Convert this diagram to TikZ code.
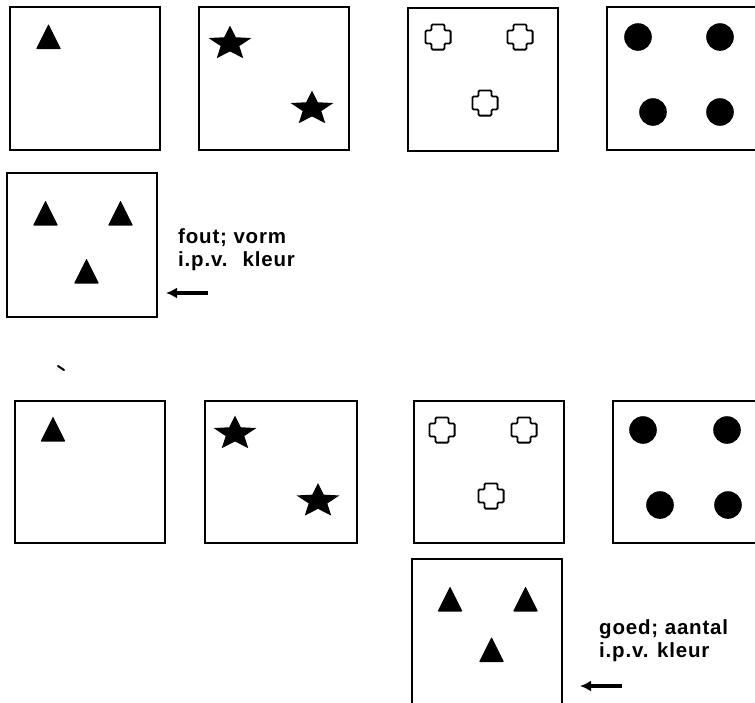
\documentclass[tikz,border=0pt]{standalone}
\usepackage{fontspec}
\newfontfamily\lblfont[LetterSpace=4]{Liberation Sans}
\usetikzlibrary{arrows.meta,positioning}
\tikzset{card/.style={draw,line width=2pt,minimum width=150pt,minimum height=143pt,inner sep=0pt},
 lbl/.style={font=\lblfont\bfseries\fontsize{20.5pt}{23pt}\selectfont,align=left,inner sep=0pt,anchor=north west},
 arr/.style={-{Latex[length=11pt,width=11pt]},line width=3.6pt},
 tri/.pic={\fill[rounded corners=.8pt] (-12.5,12.5)--(0,-12.5)--(12.5,12.5)--cycle;},
 ster/.pic={\fill[yscale=.8] (270:22.5) foreach \a in {0,...,4}{--(306+\a*72:9.8)--(342+\a*72:22.5)}--cycle;},
 kruis/.pic={\draw[line width=1.8pt,rounded corners=1.2pt] (-6.5,-12.6)--(6.5,-12.6)--(6.5,-6.5)--(12.6,-6.5)--(12.6,6.5)--(6.5,6.5)--(6.5,12.6)--(-6.5,12.6)--(-6.5,6.5)--(-12.6,6.5)--(-12.6,-6.5)--(-6.5,-6.5)--cycle;},
 stip/.pic={\fill (0,0) circle (13.8);}}
\begin{document}
\begin{tikzpicture}[x=1pt,y=-1pt]
\useasboundingbox (0,0) rectangle (755,702);\clip (0,0) rectangle (755,702);
\node[card] (v1) at (84.5,78.5) {};\node[card] (v2) at (274,78.5) {};
\node[card] (v3) at (482.5,79) {};\node[card] (v4) at (682,78.5) {};
\pic at (48.5,36.5) {tri};
\pic at (230,43.6) {ster};\pic at (312,108.6) {ster};
\pic at (438,37) {kruis};\pic at (520,37) {kruis};\pic at (485,103) {kruis};
\pic at (638,37) {stip};\pic at (720,37) {stip};\pic at (653,112) {stip};\pic at (720,112) {stip};
\node[card,minimum height=144pt] (a1) at (82,245) {};
\pic at (45.5,213) {tri};\pic at (120.5,213) {tri};\pic at (86.5,271) {tri};
\coordinate (p1) at (208,293);\coordinate (q1) at (166,293);\draw[arr] (p1)--(q1);
\node[lbl] (t1) at (178,228) {fout; vorm\\i.p.v.~ kleur};
\draw[line width=2pt,line cap=round] (58,366)--(64,370);
\node[card,minimum height=142pt] (w1) at (90,472) {};
\node[card,minimum width=152pt,minimum height=142pt] (w2) at (281,472) {};
\node[card,minimum height=142pt] (w3) at (488.5,472) {};\node[card,minimum height=142pt] (w4) at (688,472) {};
\pic at (53,429) {tri};
\pic at (235,433.6) {ster};\pic at (318,501) {ster};
\pic at (442,430) {kruis};\pic at (524,430) {kruis};\pic at (491,496) {kruis};
\pic at (643,430) {stip};\pic at (727,430) {stip};\pic at (660,505) {stip};\pic at (728,505) {stip};
\node[card,minimum height=160pt] (a2) at (487,639) {};
\pic at (450,599) {tri};\pic at (525.5,599) {tri};\pic at (491.5,649.5) {tri};
\coordinate (p2) at (622,686);\coordinate (q2) at (580,686);\draw[arr] (p2)--(q2);
\node[lbl] (t2) at (599,619) {goed; aantal\\i.p.v. kleur};
\end{tikzpicture}
\end{document}
